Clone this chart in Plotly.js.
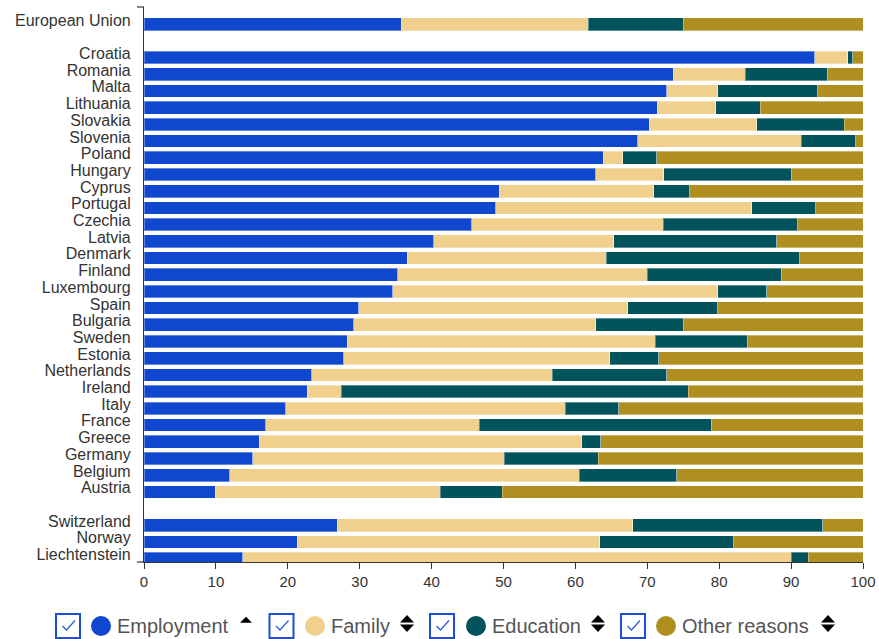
<!DOCTYPE html>
<html>
<head>
<meta charset="utf-8">
<script src="https://cdn.plot.ly/plotly-3.0.1.min.js"></script>
<style>
  html, body { margin: 0; padding: 0; background: #fff; }
  #chart { width: 879px; height: 639px; }
</style>
</head>
<body>
<div id="chart"></div>
<script>
const categories = ["European Union", "Croatia", "Romania", "Malta", "Lithuania", "Slovakia", "Slovenia", "Poland", "Hungary", "Cyprus", "Portugal", "Czechia", "Latvia", "Denmark", "Finland", "Luxembourg", "Spain", "Bulgaria", "Sweden", "Estonia", "Netherlands", "Ireland", "Italy", "France", "Greece", "Germany", "Belgium", "Austria", "Switzerland", "Norway", "Liechtenstein"];
const employment = [35.8, 93.3, 73.6, 72.7, 71.4, 70.3, 68.7, 63.9, 62.8, 49.4, 48.9, 45.6, 40.3, 36.6, 35.3, 34.6, 29.9, 29.2, 28.3, 27.8, 23.3, 22.7, 19.7, 16.9, 16.0, 15.1, 11.9, 9.9, 26.9, 21.3, 13.7];
const family = [26.0, 4.6, 10.0, 7.1, 8.1, 14.9, 22.7, 2.7, 9.5, 21.5, 35.6, 26.6, 25.0, 27.7, 34.7, 45.2, 37.4, 33.6, 42.8, 37.0, 33.5, 4.7, 38.9, 29.7, 44.9, 35.0, 48.6, 31.3, 41.1, 42.1, 76.3];
const education = [13.2, 0.7, 11.4, 13.9, 6.2, 12.2, 7.6, 4.7, 17.7, 5.0, 8.9, 18.7, 22.7, 26.9, 18.6, 6.8, 12.5, 12.2, 12.8, 6.8, 15.9, 48.3, 7.4, 32.3, 2.6, 13.1, 13.6, 8.6, 26.4, 18.6, 2.4];
const otherReasons = [25.0, 1.4, 5.0, 6.3, 14.3, 2.6, 1.0, 28.7, 10.0, 24.1, 6.6, 9.1, 12.0, 8.8, 11.4, 13.4, 20.2, 25.0, 16.1, 28.4, 27.3, 24.3, 34.0, 21.1, 36.5, 36.8, 25.9, 50.2, 5.6, 18.0, 7.6];
const seriesNames = ["Employment", "Family", "Education", "Other reasons"];
const xTicks = [0, 10, 20, 30, 40, 50, 60, 70, 80, 90, 100];

// layout: a blank slot after the EU row and before the EFTA group
const colors = ["#1047cf", "#f0d08c", "#02535c", "#b08f20"];
const rowPos = categories.map((c, i) => i + (i >= 1 ? 1 : 0) + (i >= 28 ? 1 : 0));

const seriesValues = [employment, family, education, otherReasons];
const traces = seriesValues.map((vals, k) => ({
  type: "bar",
  orientation: "h",
  name: seriesNames[k],
  x: vals,
  y: rowPos,
  marker: { color: colors[k], line: { color: "rgba(255,255,255,0.35)", width: 1 } },
  hoverinfo: "x+name",
  showlegend: false
}));

// pixel helpers for legend drawing
const L = 144, R = 863, T = 7, B = 562;
const fx = p => (p - L) / (R - L);
const fy = p => (B - p) / (B - T);

const shapes = [];
const annotations = [];

// outer ticks of y axis
shapes.push({ type: "line", xref: "paper", yref: "paper", x0: fx(137), x1: fx(144), y0: fy(7), y1: fy(7), line: { color: "#333", width: 1.2 } });
shapes.push({ type: "line", xref: "paper", yref: "paper", x0: fx(137), x1: fx(144), y0: fy(562), y1: fy(562), line: { color: "#333", width: 1.2 } });

const legendItems = [
  { box: 56, circ: 101, text: 117, icon: 240, sortUpOnly: true },
  { box: 269.5, circ: 315, text: 331, icon: 400, sortUpOnly: false },
  { box: 430, circ: 476, text: 492, icon: 591, sortUpOnly: false },
  { box: 621, circ: 666, text: 682, icon: 821, sortUpOnly: false }
];
const cy = 626;
legendItems.forEach((it, k) => {
  // checkbox
  shapes.push({ type: "rect", xref: "paper", yref: "paper", x0: fx(it.box), x1: fx(it.box + 24), y0: fy(cy - 12), y1: fy(cy + 12), line: { color: "#1d4fd6", width: 2 }, fillcolor: "#ffffff" });
  const bx = it.box;
  shapes.push({ type: "path", xref: "paper", yref: "paper",
    path: `M ${fx(bx + 6.5)} ${fy(cy)} L ${fx(bx + 10.5)} ${fy(cy + 4)} L ${fx(bx + 19)} ${fy(cy - 5.5)}`,
    line: { color: "#2a5ed8", width: 1.3 } });
  // colour dot
  shapes.push({ type: "circle", xref: "paper", yref: "paper", x0: fx(it.circ - 10), x1: fx(it.circ + 10), y0: fy(cy + 10), y1: fy(cy - 10), line: { width: 0 }, fillcolor: colors[k] });
  // label
  annotations.push({ xref: "paper", yref: "paper", x: fx(it.text - 2), y: fy(cy), xanchor: "left", yanchor: "middle", showarrow: false, text: seriesNames[k], font: { family: "Arial, 'Liberation Sans', sans-serif", size: 20, color: "#555" } });
  // sort icon
  if (it.sortUpOnly) {
    shapes.push({ type: "path", xref: "paper", yref: "paper", path: `M ${fx(it.icon)} ${fy(622.7)} L ${fx(it.icon + 12)} ${fy(622.7)} L ${fx(it.icon + 6)} ${fy(616.7)} Z`, fillcolor: "#000", line: { width: 0 } });
  } else {
    shapes.push({ type: "path", xref: "paper", yref: "paper", path: `M ${fx(it.icon)} ${fy(622.5)} L ${fx(it.icon + 14)} ${fy(622.5)} L ${fx(it.icon + 7)} ${fy(615)} Z`, fillcolor: "#000", line: { width: 0 } });
    shapes.push({ type: "path", xref: "paper", yref: "paper", path: `M ${fx(it.icon)} ${fy(624.5)} L ${fx(it.icon + 14)} ${fy(624.5)} L ${fx(it.icon + 7)} ${fy(632)} Z`, fillcolor: "#000", line: { width: 0 } });
  }
});

const layout = {
  width: 879,
  height: 639,
  margin: { l: 144, r: 16, t: 7, b: 77, pad: 0 },
  paper_bgcolor: "#fff",
  plot_bgcolor: "#fff",
  barmode: "stack",
  bargap: 0.24,
  showlegend: false,
  font: { family: "Arial, 'Liberation Sans', sans-serif", color: "#333" },
  xaxis: {
    range: [0, 100],
    tickvals: xTicks,
    ticktext: xTicks.map(String),
    showgrid: false,
    zeroline: false,
    showline: true,
    linecolor: "#333",
    linewidth: 1.2,
    ticks: "outside",
    ticklen: 6,
    tickcolor: "#333",
    tickwidth: 1.2,
    tickfont: { size: 15, color: "#333" },
    fixedrange: true
  },
  yaxis: {
    range: [32.2, -1.03],
    tickvals: rowPos.map(p => p - 0.25),
    ticktext: categories,
    showgrid: false,
    zeroline: false,
    showline: true,
    linecolor: "#333",
    linewidth: 1.2,
    ticks: "outside",
    ticklen: 9,
    tickcolor: "rgba(0,0,0,0)",
    tickfont: { size: 16, color: "#333" },
    fixedrange: true
  },
  shapes: shapes,
  annotations: annotations
};

Plotly.newPlot("chart", traces, layout, { displayModeBar: false, staticPlot: false });
</script>
</body>
</html>
